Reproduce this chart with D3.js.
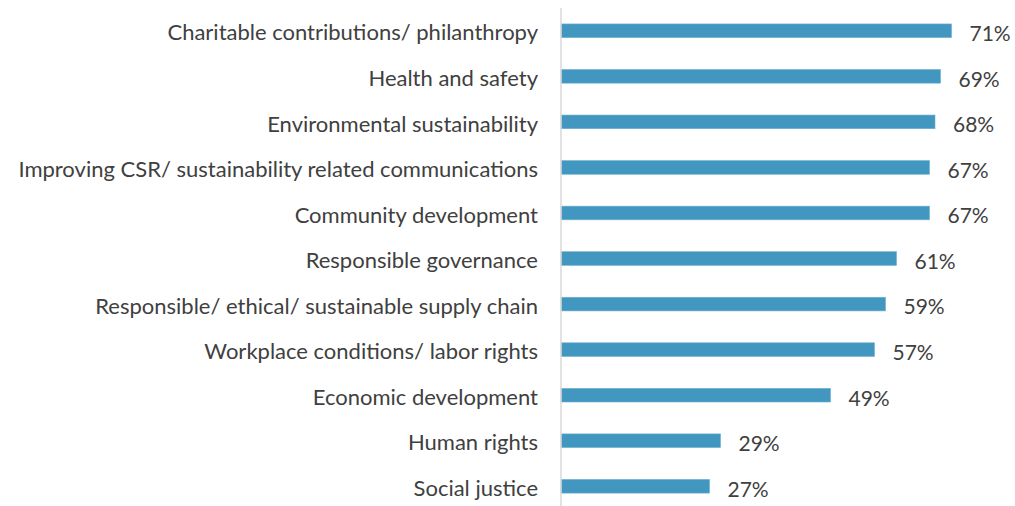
<!DOCTYPE html>
<html>
<head>
<meta charset="utf-8">
<script src="https://cdn.jsdelivr.net/npm/d3@7"></script>
<style>
  body { margin: 0; background: #fff; }
  text { font-family: Lato, "Open Sans", sans-serif; fill: #404040; }
</style>
</head>
<body>
<div id="chart"></div>
<script>
const categories = [
    "Charitable contributions/ philanthropy",
    "Health and safety",
    "Environmental sustainability",
    "Improving CSR/ sustainability related communications",
    "Community development",
    "Responsible governance",
    "Responsible/ ethical/ sustainable supply chain",
    "Workplace conditions/ labor rights",
    "Economic development",
    "Human rights",
    "Social justice"
];
const values = [71, 69, 68, 67, 67, 61, 59, 57, 49, 29, 27];
const valueLabels = ["71%", "69%", "68%", "67%", "67%", "61%", "59%", "57%", "49%", "29%", "27%"];

const width = 1015;
const height = 506;
const axisX = 561;

const svg = d3.select("#chart").append("svg")
    .attr("width", width)
    .attr("height", height);

// x scale: percent -> pixels
const x = d3.scaleLinear().domain([0, 100]).range([axisX, axisX + 550]);

// one band per category
const y = d3.scaleBand()
    .domain(categories)
    .range([8, 8 + 45.55 * categories.length])
    .paddingInner(0.70)
    .paddingOuter(0.35);

// bars
svg.selectAll(".bar")
    .data(categories)
    .enter().append("rect")
    .attr("class", "bar")
    .attr("x", x(0))
    .attr("y", d => y(d))
    .attr("width", (d, i) => x(values[i]) - x(0))
    .attr("height", y.bandwidth())
    .attr("fill", "#4197bf")
    .attr("stroke", "#6fb0d0")
    .attr("stroke-width", 0.6);

// vertical axis line
svg.append("line")
    .attr("x1", axisX).attr("x2", axisX)
    .attr("y1", 8).attr("y2", 506)
    .attr("stroke", "#d9d9d9")
    .attr("stroke-width", 1.5);

// category labels
svg.selectAll(".cat")
    .data(categories)
    .enter().append("text")
    .attr("class", "cat")
    .attr("x", axisX - 23)
    .attr("y", d => y(d) + y.bandwidth() / 2 + 2)
    .attr("dy", "0.35em")
    .attr("text-anchor", "end")
    .style("font-size", "22px")
    .text(d => d);

// value labels
svg.selectAll(".val")
    .data(categories)
    .enter().append("text")
    .attr("class", "val")
    .attr("x", (d, i) => x(values[i]) + 18)
    .attr("y", d => y(d) + y.bandwidth() / 2 + 3)
    .attr("dy", "0.35em")
    .style("font-size", "21px")
    .text((d, i) => valueLabels[i]);
</script>
</body>
</html>
